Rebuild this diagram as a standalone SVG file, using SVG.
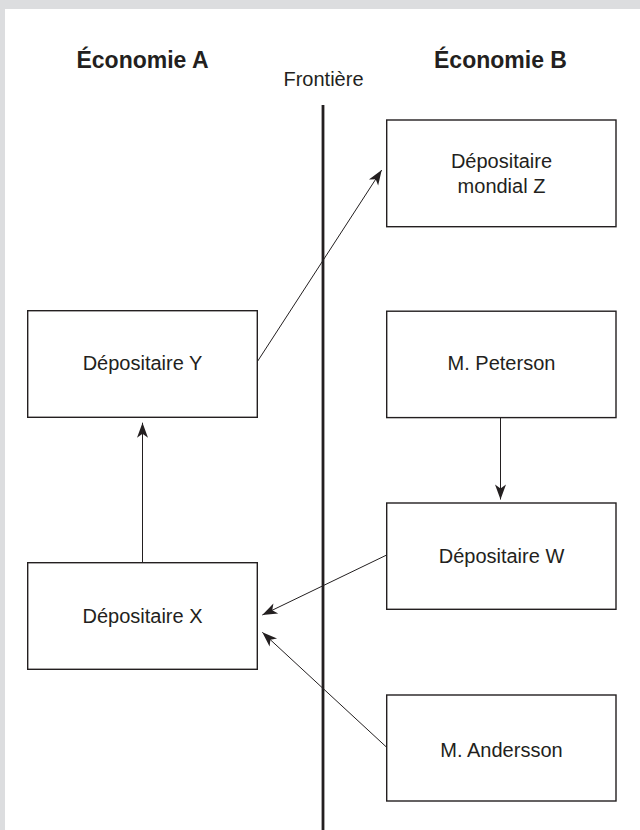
<svg xmlns="http://www.w3.org/2000/svg" width="640" height="830" viewBox="0 0 640 830">
  <style>
    .box { fill: #ffffff; stroke: #231f20; stroke-width: 1.4; }
    .lbl { font-family: "Liberation Sans", Arial, sans-serif; font-size: 20px; fill: #231f20; text-anchor: middle; }
    .head { font-family: "Liberation Sans", Arial, sans-serif; font-size: 23px; font-weight: bold; fill: #231f20; text-anchor: middle; }
    .conn { stroke: #231f20; stroke-width: 1; fill: none; marker-end: url(#arrow); }
  </style>
  <defs>
    <marker id="arrow" markerUnits="userSpaceOnUse" markerWidth="18" markerHeight="14" viewBox="-16 -7 18 14" refX="0" refY="0" orient="auto">
      <path d="M0,0 L-15,-5.5 L-11,0 L-15,5.5 Z" fill="#231f20"/>
    </marker>
  </defs>
  <rect x="0" y="0" width="640" height="830" fill="#dcdddf"/>
  <rect x="5" y="9" width="635" height="821" fill="#ffffff"/>

  <g id="headings">
    <text class="head" x="142.5" y="68">Économie A</text>
    <text class="head" x="500.5" y="68">Économie B</text>
    <text class="lbl" x="323.5" y="86">Frontière</text>
  </g>

  <g id="frontier">
    <line x1="323" y1="105" x2="323" y2="830" stroke="#231f20" stroke-width="2.8"/>
  </g>

  <g id="connectors">
    <line class="conn" x1="257.3" y1="361.7" x2="381.7" y2="170"/>
    <line class="conn" x1="500.5" y1="418" x2="500.5" y2="499.5"/>
    <line class="conn" x1="142.5" y1="562.7" x2="142.5" y2="422.7"/>
    <line class="conn" x1="386.7" y1="555" x2="262.3" y2="615"/>
    <line class="conn" x1="386.7" y1="747.3" x2="262.3" y2="632.3"/>
  </g>

  <g id="node-z">
    <rect class="box" x="386.7" y="120" width="229.3" height="106.7"/>
    <text class="lbl" x="501.5" y="168">Dépositaire</text>
    <text class="lbl" x="501.5" y="193">mondial Z</text>
  </g>
  <g id="node-y">
    <rect class="box" x="27.7" y="310.7" width="229.6" height="106.6"/>
    <text class="lbl" x="142.5" y="370">Dépositaire Y</text>
  </g>
  <g id="node-peterson">
    <rect class="box" x="386.7" y="311.2" width="229.3" height="106.4"/>
    <text class="lbl" x="501.5" y="370">M. Peterson</text>
  </g>
  <g id="node-w">
    <rect class="box" x="386.7" y="503" width="229.3" height="106.3"/>
    <text class="lbl" x="501.5" y="562.7">Dépositaire W</text>
  </g>
  <g id="node-x">
    <rect class="box" x="27.7" y="562.7" width="229.6" height="106.6"/>
    <text class="lbl" x="142.5" y="623.3">Dépositaire X</text>
  </g>
  <g id="node-andersson">
    <rect class="box" x="386.7" y="695" width="229.3" height="106"/>
    <text class="lbl" x="501.5" y="757">M. Andersson</text>
  </g>
</svg>
